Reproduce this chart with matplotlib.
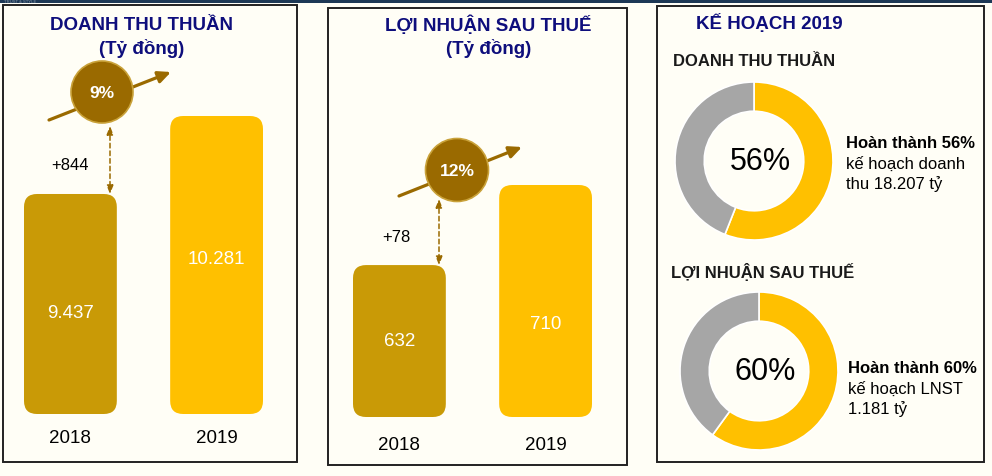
import matplotlib
matplotlib.use("Agg")
import matplotlib.pyplot as plt
from matplotlib.patches import FancyBboxPatch, Rectangle, Circle
from matplotlib import transforms

# ---- data ----
years = ["2018", "2019"]
revenue = [9437, 10281]
profit = [632, 710]
plan_pct = [56, 60]
plan_notes = [
    ["kế hoạch doanh", "thu 18.207 tỷ"],
    ["kế hoạch LNST", "1.181 tỷ"],
]

W, H = 992, 477
BG = "#FFFEF6"
NAVY = "#0E0E7C"
GOLD_DARK = "#C99A06"
GOLD = "#FFC000"
BROWN = "#9A6A00"
GREY = "#A6A6A6"

plt.rcParams["font.family"] = ["Liberation Sans", "DejaVu Sans"]

fig = plt.figure(figsize=(W / 100, H / 100), dpi=100, facecolor=BG)
bg = fig.add_axes([0, 0, 1, 1])
bg.set_xlim(0, W)
bg.set_ylim(H, 0)
bg.axis("off")


def px_axes(x0, y0, x1, y1):
    return fig.add_axes([x0 / W, 1 - y1 / H, (x1 - x0) / W, (y1 - y0) / H])


def fmt(v):
    return f"{v:,}".replace(",", ".")


# top strip
bg.add_patch(Rectangle((0, 0), W, 3.5, fc="#1D3856", ec="none"))
bg.text(4, 1.8, "TRUST & STYLE", fontsize=3, color="#8899AA", va="center")

# panel borders
for x0, y0, x1, y1 in [(3, 6, 297, 463), (328, 9, 627, 466), (657, 7, 984, 463)]:
    bg.add_patch(Rectangle((x0, y0), x1 - x0, y1 - y0, fill=False,
                           ec="#222222", lw=1.4))


def bar_panel(values, box, base, title, title_x, label_fr, year_y,
              circle, arrow, dash_x, dash_top, diff_xy):
    left, top, right, bottom = box
    bw = 0.635
    ax = px_axes(left, top, right, bottom)
    ax.axis("off")
    ax.set_xlim(-bw / 2, 1 + bw / 2)
    ax.set_ylim(base, max(values))
    ux = (1 + bw) / (right - left)
    uy = (max(values) - base) / (bottom - top)
    for i, (v, c) in enumerate(zip(values, [GOLD_DARK, GOLD])):
        ax.add_patch(FancyBboxPatch((i - bw / 2, base), bw, v - base,
                                    boxstyle=f"round,pad=0,rounding_size={13 * ux}",
                                    mutation_aspect=uy / ux, fc=c, ec="none",
                                    clip_on=False))
        ax.text(i, base + label_fr[i] * (max(values) - base), fmt(v),
                ha="center", va="center", color="white", fontsize=13.5)
    ytr = transforms.blended_transform_factory(ax.transData, bg.transData)
    for i, y in enumerate(years):
        ax.text(i, year_y, y, transform=ytr, ha="center", va="center",
                fontsize=13.5, color="black")

    bg.text(title_x, 25, title, ha="center", va="center", fontsize=13.5,
            fontweight="bold", color=NAVY)
    bg.text(title_x + 1, 48, "(Tỷ đồng)", ha="center", va="center",
            fontsize=13.5, fontweight="bold", color=NAVY)

    # growth arrow + circle
    (ax0, ay0), (ax1, ay1) = arrow
    bg.annotate("", xy=(ax1, ay1), xytext=(ax0, ay0),
                arrowprops=dict(arrowstyle="-|>,head_length=0.75,head_width=0.35",
                                color=BROWN, lw=2.3, shrinkA=0, shrinkB=0))
    cx, cy, r = circle
    bg.add_patch(Circle((cx, cy), r, fc=BROWN, ec="#C9A23A", lw=1.2, zorder=3))
    growth = round((values[1] - values[0]) / values[0] * 100)
    bg.text(cx, cy + 1, f"{growth}%", ha="center", va="center", color="white",
            fontsize=12.5, fontweight="bold", zorder=4)

    # dashed difference arrow
    dtr = transforms.blended_transform_factory(bg.transData, ax.transData)
    bg.annotate("", xy=(dash_x, values[0]), xycoords=dtr,
                xytext=(dash_x, dash_top), textcoords=bg.transData,
                arrowprops=dict(arrowstyle="<|-|>,head_length=0.5,head_width=0.2",
                                color=BROWN, lw=1.1, ls=(0, (3, 2)),
                                shrinkA=0, shrinkB=0))
    bg.text(diff_xy[0], diff_xy[1], f"+{values[1] - values[0]}", ha="center",
            va="center", fontsize=12, color="black")


bar_panel(revenue, (24, 117, 263, 415), 7056, "DOANH THU THUẦN", 141,
          [0.339, 0.523], 439, (102, 93, 31), ((49, 121), (171, 73)),
          110, 127, (70, 166))
bar_panel(profit, (353, 186, 592, 418), 484, "LỢI NHUẬN SAU THUẾ", 488,
          [0.328, 0.405], 446, (457, 171, 31.5), ((399, 197), (522, 148)),
          439, 200, (396, 238))

# ---- plan panel ----
bg.text(769, 23, "KẾ HOẠCH 2019", ha="center", va="center", fontsize=13.5,
        fontweight="bold", color=NAVY)
sub_titles = ["DOANH THU THUẦN", "LỢI NHUẬN SAU THUẾ"]
sub_pos = [(673, 61), (671, 272)]
donut_pos = [(754, 162, 79), (759, 372, 79)]
note_pos = [(846, 144), (848, 369)]

for k in range(2):
    bg.text(sub_pos[k][0], sub_pos[k][1], sub_titles[k], ha="left", va="center",
            fontsize=12, fontweight="bold", color="#1A1A1A")
    cx, cy, r = donut_pos[k]
    dax = px_axes(cx - r, cy - r, cx + r, cy + r)
    dax.pie([plan_pct[k], 100 - plan_pct[k]], colors=[GOLD, GREY], startangle=90,
            counterclock=False, radius=1,
            wedgeprops=dict(width=0.37, edgecolor="white", linewidth=1.2))
    dax.set_xlim(-1, 1)
    dax.set_ylim(-1, 1)
    dax.set_aspect("equal")
    dax.axis("off")
    dax.text(0.08, 0, f"{plan_pct[k]}%", ha="center", va="center", fontsize=22,
             color="black")
    nx_, ny_ = note_pos[k]
    bg.text(nx_, ny_, f"Hoàn thành {plan_pct[k]}%", ha="left", va="center",
            fontsize=12, fontweight="bold", color="black")
    for j, line in enumerate(plan_notes[k]):
        bg.text(nx_, ny_ + 20 * (j + 1), line, ha="left", va="center",
                fontsize=12, color="black")

fig.savefig("out.png", dpi=100, facecolor=BG)
